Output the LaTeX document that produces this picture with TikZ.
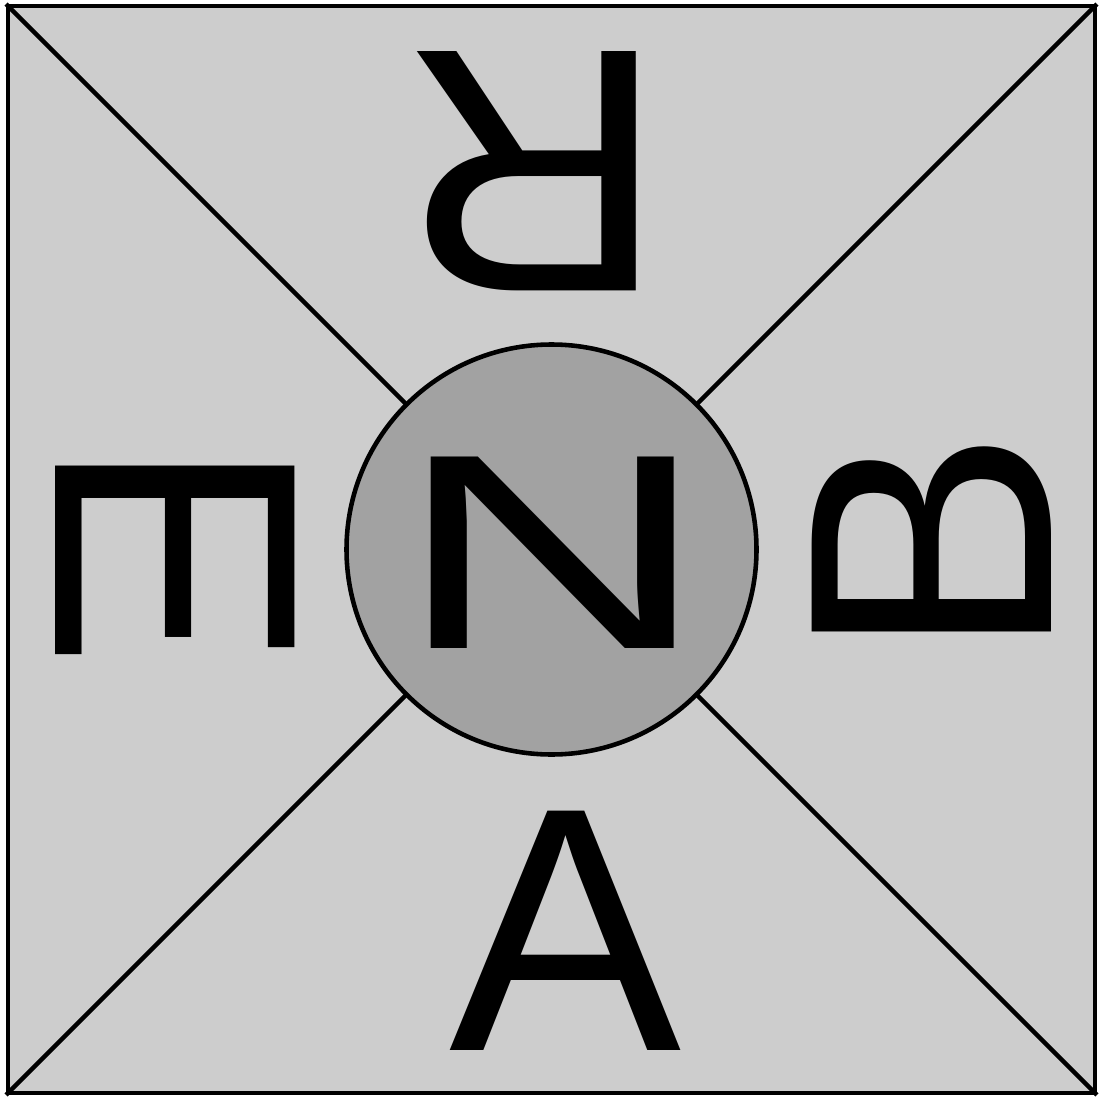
\documentclass[tikz,border=0pt]{standalone}
\usepackage{fontspec}
\setmainfont{Liberation Sans}
\usetikzlibrary{positioning}
\definecolor{boardbg}{RGB}{205,205,205}
\definecolor{hubbg}{RGB}{162,162,162}
\newcommand{\bigletterfont}{\fontsize{99}{100}\selectfont}
\tikzset{
    board/.style={draw, line width=1.1pt, fill=boardbg, minimum size=10.87cm, inner sep=0pt},
    hub/.style={circle, draw, line width=1.3pt, fill=hubbg, minimum size=4.1cm, inner sep=0pt},
    diag/.style={line width=1.3pt},
    letter/.style={font=\bigletterfont, inner sep=0pt, text=black}
}
\begin{document}
\begin{tikzpicture}
    \fill[white] (0,0) rectangle (11,10.99);
    \useasboundingbox (0,0) rectangle (11,10.99);
    \node[board] (sq) at (5.515,5.495) {};

    \draw[diag] (sq.north west) -- (sq.south east);
    \draw[diag] (sq.south west) -- (sq.north east);

    \node[hub] (hub) at (sq.center) {};

    % letters round the hub
    \node[letter, xscale=1.25, yscale=0.8] (nletter) at (5.53,5.46) {N};
    \node[letter, rotate=-90] (eletter) at (1.75,5.45) {E};
    \node[letter, rotate=90] (bletter) at (9.32,5.55) {B};
    \node[letter, rotate=180, xscale=1.06] (rletter) at (5.33,9.28) {R};
    \node[letter] (aletter) at (5.66,1.68) {A};
\end{tikzpicture}
\end{document}
